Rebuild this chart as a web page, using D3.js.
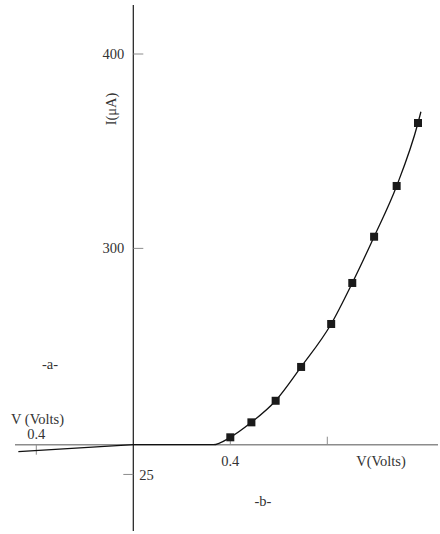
<!DOCTYPE html>
<html>
<head>
<meta charset="utf-8">
<script src="https://cdn.jsdelivr.net/npm/d3@7"></script>
<style>
    body { margin: 0; background: #fff; }
    text { font-family: "Liberation Serif", "Times New Roman", serif; font-size: 14.5px; fill: #333; }
</style>
</head>
<body>
<div id="chart"></div>
<script>
// measured points (square markers)
const voltage = [0.40, 0.487, 0.587, 0.692, 0.816, 0.903, 0.993, 1.086, 1.174];
const current = [202.8, 210.5, 221.6, 239.0, 261.1, 282.2, 306.0, 332.1, 364.5];

// reverse branch (straight line into the origin)
const reverseV = [-0.474, 0];
const reverseI = [195.4, 199];

// forward fitted curve
const curveV = [0, 0.33, 0.40, 0.487, 0.587, 0.692, 0.816, 0.903, 0.993, 1.086, 1.174, 1.186];
const curveI = [199, 199, 202.8, 210.5, 221.6, 239.0, 261.1, 282.2, 306.0, 332.1, 364.5, 370.3];

// tick values and their printed labels
const yTickValues = [400, 300, 183.7];
const yTickLabels = ["400", "300", "25"];
const xTickValues = [-0.4, 0.4, 0.8];

const width = 440, height = 534;
const yBase = 199;   // current value where the V axis crosses

const svg = d3.select("#chart")
    .append("svg")
    .attr("width", width)
    .attr("height", height);

const x = d3.scaleLinear()
    .domain([0, 0.4])
    .range([133.3, 230.3]);

const y = d3.scaleLinear()
    .domain([yBase, 400])
    .range([444.7, 54]);

const x0 = x(0), y0 = y(yBase);

// horizontal (voltage) axis
svg.append("line")
    .attr("x1", 15).attr("x2", 438)
    .attr("y1", y0).attr("y2", y0)
    .attr("stroke", "#8c8c8c")
    .attr("stroke-width", 1.5);

// vertical (current) axis
svg.append("line")
    .attr("x1", x0).attr("x2", x0)
    .attr("y1", 5).attr("y2", 531)
    .attr("stroke", "#1a1a1a")
    .attr("stroke-width", 1.2);

// x ticks: left one hangs down, right ones point up
svg.selectAll(".xtick")
    .data(xTickValues)
    .enter()
    .append("line")
    .attr("class", "xtick")
    .attr("x1", d => x(d)).attr("x2", d => x(d))
    .attr("y1", d => d < 0 ? y0 : y0 - 8)
    .attr("y2", d => d < 0 ? y0 + 10 : y0)
    .attr("stroke", "#8c8c8c")
    .attr("stroke-width", 1);

// y ticks
svg.selectAll(".ytick")
    .data(yTickValues)
    .enter()
    .append("line")
    .attr("class", "ytick")
    .attr("x1", d => d < yBase ? x0 - 10 : x0)
    .attr("x2", d => d < yBase ? x0 : x0 + 10)
    .attr("y1", d => y(d)).attr("y2", d => y(d))
    .attr("stroke", "#8c8c8c")
    .attr("stroke-width", 1);

svg.selectAll(".ylabel")
    .data(yTickValues)
    .enter()
    .append("text")
    .attr("class", "ylabel")
    .attr("x", d => d < yBase ? x0 + 6 : x0 - 9)
    .attr("y", d => y(d))
    .attr("dy", "0.35em")
    .style("text-anchor", d => d < yBase ? "start" : "end")
    .text((d, i) => yTickLabels[i]);

// axis titles
svg.append("text")
    .attr("transform", "translate(116,109) rotate(-90)")
    .style("text-anchor", "middle")
    .text("I(\u03bcA)");

svg.append("text")
    .attr("x", x(0.4))
    .attr("y", y0 + 21)
    .style("text-anchor", "middle")
    .text("0.4");

svg.append("text")
    .attr("x", 381)
    .attr("y", y0 + 21)
    .style("text-anchor", "middle")
    .text("V(Volts)");

svg.append("text")
    .attr("x", x(-0.4))
    .attr("y", y0 - 5.5)
    .style("text-anchor", "middle")
    .text("0.4");

svg.append("text")
    .attr("x", 37.5)
    .attr("y", y0 - 20.5)
    .style("text-anchor", "middle")
    .text("V (Volts)");

svg.append("text")
    .attr("x", 50)
    .attr("y", 369)
    .style("text-anchor", "middle")
    .text("-a-");

svg.append("text")
    .attr("x", 263)
    .attr("y", 506)
    .style("text-anchor", "middle")
    .text("-b-");

// reverse branch, straight
const straight = d3.line()
    .x((d, i) => x(reverseV[i]))
    .y((d, i) => y(reverseI[i]));

svg.append("path")
    .attr("d", straight(reverseV))
    .attr("fill", "none")
    .attr("stroke", "#111")
    .attr("stroke-width", 1.3);

// forward curve
const line = d3.line()
    .x((d, i) => x(curveV[i]))
    .y((d, i) => y(curveI[i]))
    .curve(d3.curveMonotoneX);

svg.append("path")
    .attr("d", line(curveV))
    .attr("fill", "none")
    .attr("stroke", "#111")
    .attr("stroke-width", 1.3);

// markers
const size = 8;
svg.selectAll(".pt")
    .data(voltage)
    .enter()
    .append("rect")
    .attr("class", "pt")
    .attr("x", d => x(d) - size / 2)
    .attr("y", (d, i) => y(current[i]) - size / 2)
    .attr("width", size)
    .attr("height", size)
    .attr("fill", "#1a1a1a");
</script>
</body>
</html>
